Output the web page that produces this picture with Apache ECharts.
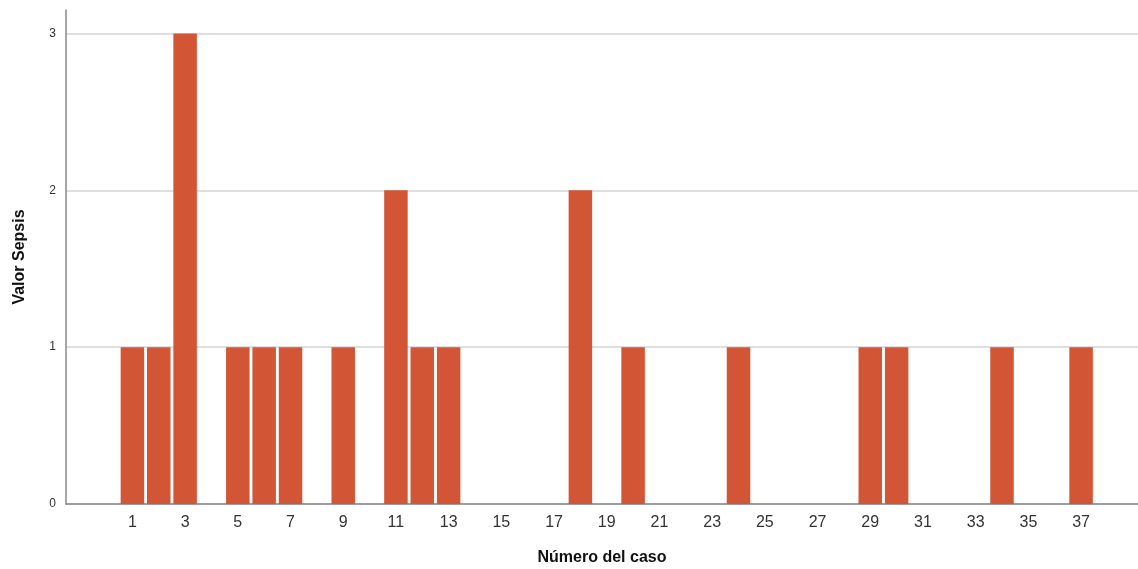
<!DOCTYPE html>
<html>
<head>
<meta charset="utf-8">
<script src="https://cdn.jsdelivr.net/npm/echarts@6/dist/echarts.min.js"></script>
<style>html,body{margin:0;padding:0;background:#fff}#c{width:1138px;height:569px}</style>
</head>
<body>
<div id="c"></div>
<script>
const caseNumbers = [1,2,3,5,6,7,9,11,12,13,18,20,24,29,30,34,37];
const sepsisValues = [1,1,3,1,1,1,1,2,1,1,2,1,1,1,1,1,1];
const xTickLabels = [1,3,5,7,9,11,13,15,17,19,21,23,25,27,29,31,33,35,37];
const yTickLabels = [0,1,2,3];

const chart = echarts.init(document.getElementById('c'));
chart.setOption({
  animation: false,
  grid: {left: 66, right: 0, top: 10, bottom: 65, containLabel: false, outerBoundsMode: 'none'},
  xAxis: {
    type: 'value', min: -1.52, max: 39.16,
    name: 'Número del caso', nameLocation: 'middle', nameGap: 46,
    nameTextStyle: {fontFamily: 'Arial, Liberation Sans', fontWeight: 'bold', fontSize: 16, color: '#111'},
    axisLine: {show: true, onZero: false, lineStyle: {color: '#888', width: 1.5}},
    axisTick: {show: false, customValues: xTickLabels},
    splitLine: {show: false},
    axisLabel: {customValues: xTickLabels, fontFamily: 'Arial, Liberation Sans', fontSize: 16, color: '#333', margin: 11}
  },
  yAxis: {
    type: 'value', min: 0, max: 3.15,
    name: 'Valor Sepsis', nameLocation: 'middle', nameGap: 38,
    nameTextStyle: {fontFamily: 'Arial, Liberation Sans', fontWeight: 'bold', fontSize: 16, color: '#111'},
    axisLine: {show: true, onZero: false, lineStyle: {color: '#888', width: 1.5}},
    axisTick: {show: false, customValues: yTickLabels},
    splitLine: {show: true, lineStyle: {color: '#d4d4d4', width: 1.5}},
    axisLabel: {customValues: yTickLabels, fontFamily: 'Arial, Liberation Sans', fontSize: 12, color: '#333', margin: 10}
  },
  series: [{
    type: 'bar',
    data: caseNumbers.map((c, i) => [c, sepsisValues[i]]),
    barWidth: 23.5,
    itemStyle: {color: '#d25535'}
  }]
});
</script>
</body>
</html>
